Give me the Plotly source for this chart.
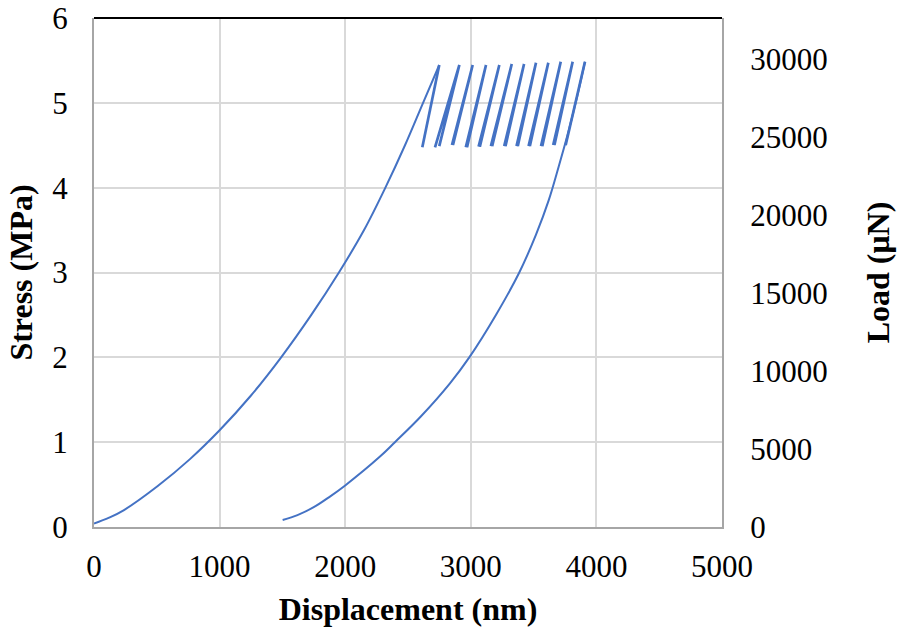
import plotly.graph_objects as go

# ---------------- data ----------------
# main loading curve: displacement (nm), stress (MPa)
load_disp = [0, 120, 239, 505, 764, 1000, 1250, 1490, 1730, 1950, 2150, 2320, 2476, 2620, 2749]
load_stress = [0.04, 0.11, 0.20, 0.48, 0.80, 1.14, 1.55, 2.00, 2.50, 3.00, 3.50, 4.00, 4.50, 5.00, 5.446]

# cyclic part: peaks of the 12 cycles
peak_disp = [2749, 2909, 3015, 3121, 3227, 3326, 3424, 3519, 3617, 3716, 3811, 3909]
peak_stress = [5.446, 5.446, 5.446, 5.446, 5.446, 5.458, 5.458, 5.473, 5.473, 5.485, 5.485, 5.485]
# valleys where reloading starts (cycles 2..12)
reload_disp = [2715, 2850, 2960, 3062, 3160, 3266, 3364, 3460, 3559, 3656, 3755]
reload_stress = [4.476, 4.503, 4.476, 4.483, 4.49, 4.49, 4.49, 4.49, 4.49, 4.503, 4.50]
# valleys where unloading ends (cycles 1..11)
unload_end_disp = [2614, 2749, 2858, 2970, 3072, 3170, 3276, 3374, 3470, 3569, 3666]
unload_end_stress = [4.476, 4.49, 4.503, 4.476, 4.483, 4.49, 4.49, 4.49, 4.49, 4.49, 4.503]

# final unloading curve
final_disp = [3909, 3843, 3770, 3700, 3620, 3520, 3386, 3200, 2988, 2834, 2600, 2396, 2277,
              2000, 1870, 1746, 1620, 1502]
final_stress = [5.485, 5.05, 4.62, 4.25, 3.85, 3.45, 3.00, 2.50, 2.00, 1.694, 1.30, 1.00, 0.83,
                0.49, 0.35, 0.23, 0.14, 0.083]

x_ticks = [0, 1000, 2000, 3000, 4000, 5000]
stress_ticks = [0, 1, 2, 3, 4, 5, 6]
load_ticks = [0, 5000, 10000, 15000, 20000, 25000, 30000]

# ---------------- build the cyclic strokes ----------------
sx = [peak_disp[0], unload_end_disp[0], None]
sy = [peak_stress[0], unload_end_stress[0], None]
for i in range(1, 11):
    sx += [reload_disp[i - 1], peak_disp[i], unload_end_disp[i], None]
    sy += [reload_stress[i - 1], peak_stress[i], unload_end_stress[i], None]
sx += [reload_disp[10], peak_disp[11]]
sy += [reload_stress[10], peak_stress[11]]

FONT = "Liberation Serif, Times New Roman, serif"
GRID = "#d9d9d9"
AXIS = "#a6a6a6"
BLUE = "#4472C4"

fig = go.Figure()
fig.add_trace(go.Scatter(x=load_disp, y=load_stress, mode="lines",
                         line=dict(color=BLUE, width=2, shape="spline", smoothing=1.0),
                         showlegend=False, hoverinfo="skip"))
fig.add_trace(go.Scatter(x=sx, y=sy, mode="lines", connectgaps=False,
                         line=dict(color=BLUE, width=2.7), showlegend=False,
                         hoverinfo="skip"))
fig.add_trace(go.Scatter(x=final_disp, y=final_stress, mode="lines",
                         line=dict(color=BLUE, width=2, shape="spline", smoothing=1.0),
                         showlegend=False, hoverinfo="skip"))
fig.add_trace(go.Scatter(x=[None], y=[None], yaxis="y2", showlegend=False,
                         hoverinfo="skip"))

TITLE_FONT = dict(size=32, family=FONT, color="black")

fig.update_layout(
    width=901, height=628,
    margin=dict(l=94, r=179, t=18, b=101, autoexpand=False),
    paper_bgcolor="white", plot_bgcolor="white",
    font=dict(family=FONT, size=31, color="black"),
    xaxis=dict(range=[0, 5000], tickvals=x_ticks, ticktext=[str(v) for v in x_ticks],
               showgrid=True, gridcolor=GRID, gridwidth=1.5,
               showline=True, linecolor=AXIS, linewidth=2, ticks="",
               zeroline=False, ticklabelstandoff=11,
               title=dict(text="<b>Displacement (nm)</b>", standoff=14, font=TITLE_FONT)),
    yaxis=dict(range=[0, 6], tickvals=stress_ticks, ticktext=[str(v) for v in stress_ticks],
               showgrid=True, gridcolor=GRID, gridwidth=1.5,
               showline=True, linecolor=AXIS, linewidth=2, ticks="",
               zeroline=False, ticklabelstandoff=18,
               title=dict(text="<b>Stress (MPa)</b>", standoff=10, font=TITLE_FONT)),
    yaxis2=dict(range=[0, 32650], tickvals=load_ticks, ticktext=[str(v) for v in load_ticks],
                overlaying="y", side="right",
                showgrid=False, showline=True, linecolor=AXIS, linewidth=2,
                ticks="", zeroline=False, ticklabelstandoff=20,
                title=dict(text="<b>Load (μN)</b>", standoff=40, font=TITLE_FONT)),
    shapes=[dict(type="line", xref="paper", yref="paper", x0=0, x1=1, y0=1, y1=1,
                 line=dict(color="black", width=2))],
)

fig.write_html("out.html", config={"displayModeBar": False},
               post_script="document.body.style.margin='0px';")
